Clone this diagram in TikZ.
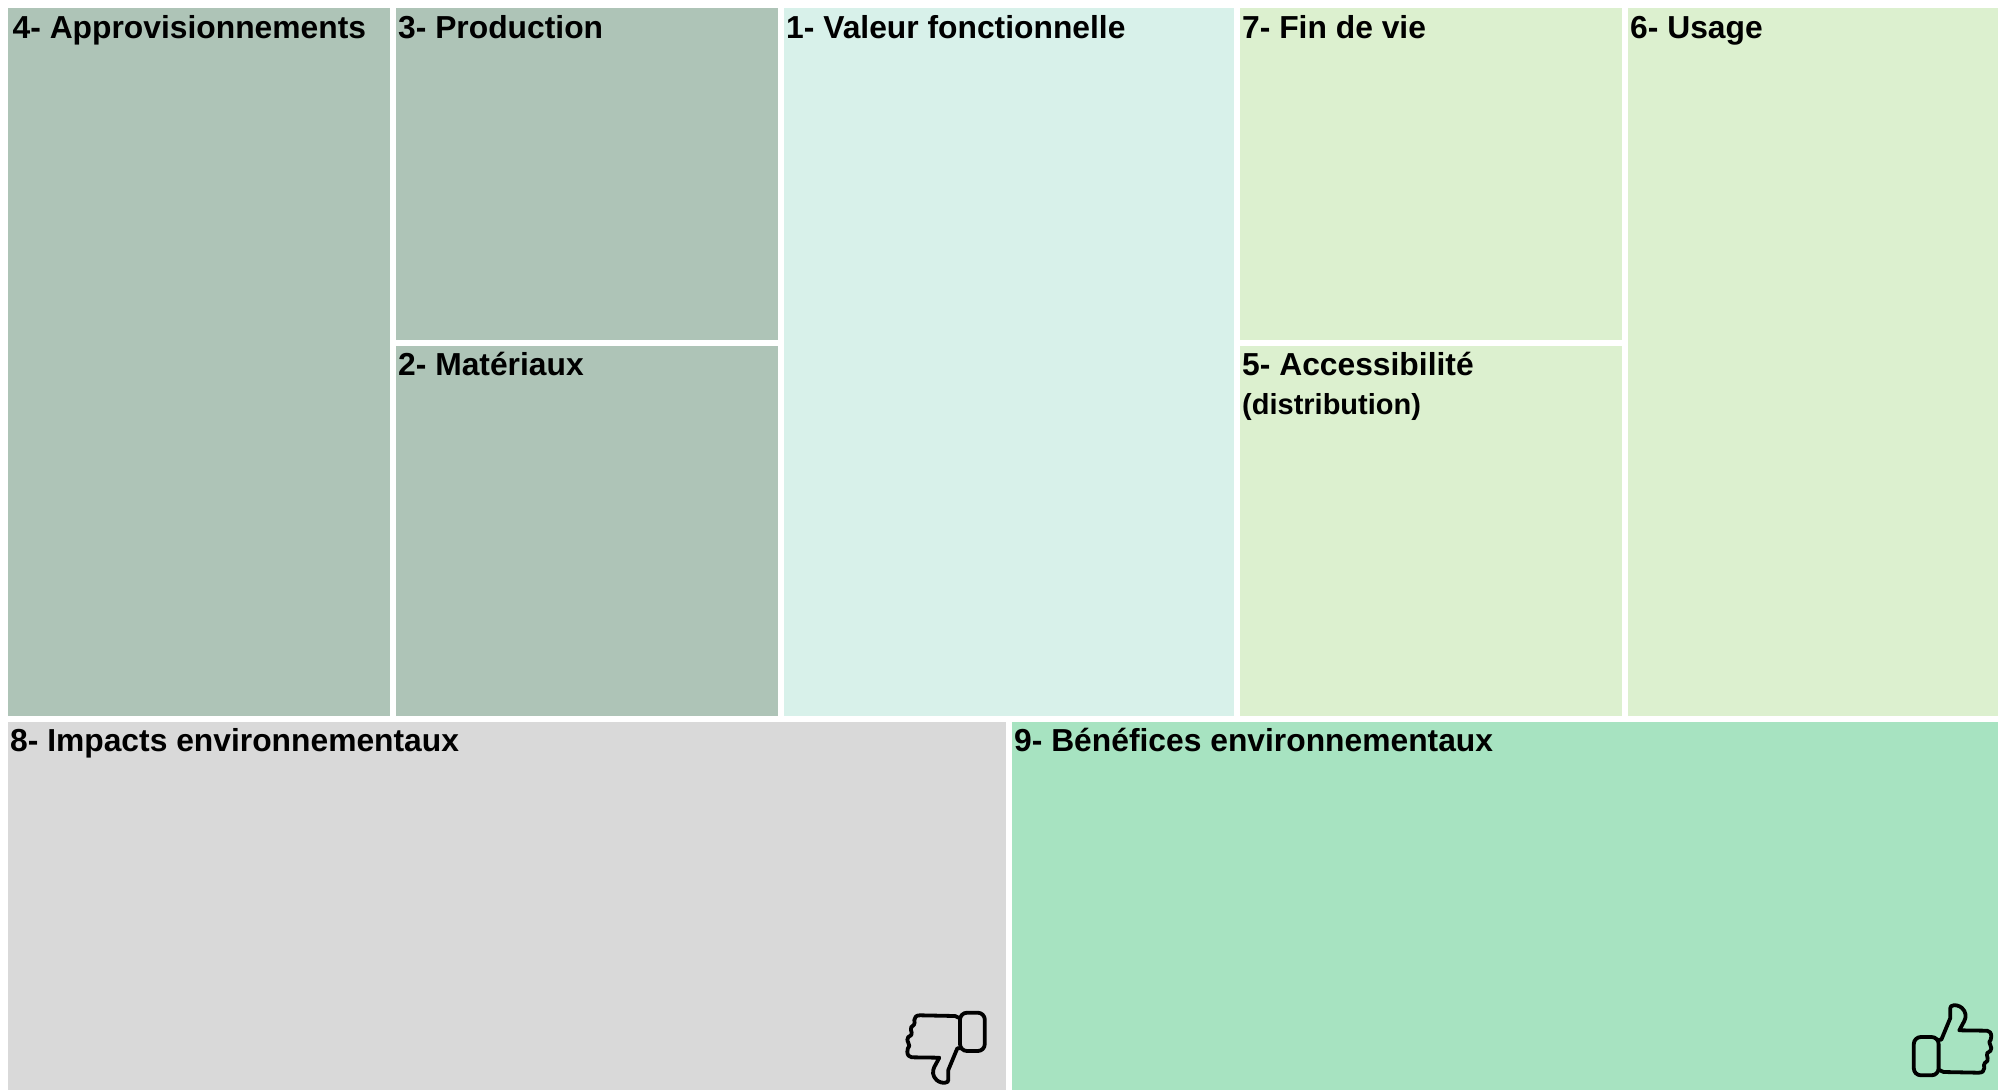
\documentclass[tikz,border=0pt]{standalone}
\usepackage{fontspec}
\setmainfont{Liberation Sans}

\definecolor{vertgris}{HTML}{AEC4B7}
\definecolor{cyanpale}{HTML}{D8F1EA}
\definecolor{vertpale}{HTML}{DCF0CF}
\definecolor{grisclair}{HTML}{D9D9D9}
\definecolor{vertvif}{HTML}{A7E3C1}

\tikzset{
    case/.style={anchor=north west,inner sep=0pt,outer sep=0pt,minimum width=#1},
    titre/.style={anchor=base west,inner sep=0pt,font=\fontsize{31.8}{38}\selectfont\bfseries},
    soustitre/.style={anchor=base west,inner sep=0pt,font=\fontsize{29}{34}\selectfont\bfseries},
    pouce/.pic={
        \draw[line width=3.8pt,line join=round,line cap=round]
            (10.7,-25.7) -- (5.7,-28) -- (-29.3,-28.7)
            .. controls (-33,-28.7) and (-35,-27) .. (-35,-24)
            .. controls (-34.5,-22) and (-34.5,-20) .. (-35.5,-19)
            .. controls (-38,-18) and (-39,-16) .. (-38.3,-14)
            .. controls (-37.5,-12.5) and (-37.5,-10) .. (-38,-9)
            .. controls (-41,-8) and (-42,-6) .. (-42,-4)
            .. controls (-41.5,-1) and (-40,0) .. (-40,2)
            .. controls (-41,3) and (-42,5) .. (-42,7.7)
            .. controls (-42,11) and (-40,13.3) .. (-37.7,13.3)
            -- (-10,13.7) -- (-15,23)
            .. controls (-17,27) and (-17,32) .. (-12.7,36)
            .. controls (-10,38.5) and (-6,39) .. (-4.3,38.7)
            .. controls (-2,38.5) and (-1,37.5) .. (-1,36)
            -- (-1,26) -- (8,4.3) -- (10.7,4.3);
        \draw[line width=3.8pt,line join=round,rounded corners=7pt]
            (10.7,-31.3) -- (35.5,-31.3) -- (35.5,7) -- (10.7,7) -- cycle;
    }
}

\begin{document}
\begin{tikzpicture}[x=1pt,y=-1pt]
    \useasboundingbox (0,0) rectangle (1998,1090);

    % Colonne de gauche
    \node[case=382pt,minimum height=708pt,fill=vertgris] (appro) at (8,8) {};
    \node[case=382pt,minimum height=332pt,fill=vertgris] (prod) at (396,8) {};
    \node[case=382pt,minimum height=370pt,fill=vertgris] (mat) at (396,346) {};

    % Centre
    \node[case=450pt,minimum height=708pt,fill=cyanpale] (valeur) at (784,8) {};

    % Colonne de droite
    \node[case=382pt,minimum height=332pt,fill=vertpale] (fin) at (1240,8) {};
    \node[case=382pt,minimum height=370pt,fill=vertpale] (access) at (1240,346) {};
    \node[case=370pt,minimum height=708pt,fill=vertpale] (usage) at (1628,8) {};

    % Bas
    \node[case=998pt,minimum height=368pt,fill=grisclair] (impacts) at (8,722) {};
    \node[case=986pt,minimum height=368pt,fill=vertvif] (benef) at (1012,722) {};

    % Titres
    \node[titre] (tappro) at ([shift={(4.5,30)}]appro.north west) {4- Approvisionnements};
    \node[titre] (tprod) at ([shift={(2,30)}]prod.north west) {3- Production};
    \node[titre] (tmat) at ([shift={(2,29)}]mat.north west) {2- Matériaux};
    \node[titre] (tvaleur) at ([shift={(2,30)}]valeur.north west) {1- Valeur fonctionnelle};
    \node[titre] (tfin) at ([shift={(2,30)}]fin.north west) {7- Fin de vie};
    \node[titre] (taccess) at ([shift={(2,29)}]access.north west) {5- Accessibilité};
    \node[soustitre] (tdistrib) at ([shift={(2,68)}]access.north west) {(distribution)};
    \node[titre] (tusage) at ([shift={(2,30)}]usage.north west) {6- Usage};
    \node[titre] (timpacts) at ([shift={(2,29)}]impacts.north west) {8- Impacts environnementaux};
    \node[titre] (tbenef) at ([shift={(2,29)}]benef.north west) {9- Bénéfices environnementaux};

    % Pouces
    \pic at (949.3,1044) {pouce};
    \pic[rotate=180] at (1949.3,1044) {pouce};
\end{tikzpicture}
\end{document}
